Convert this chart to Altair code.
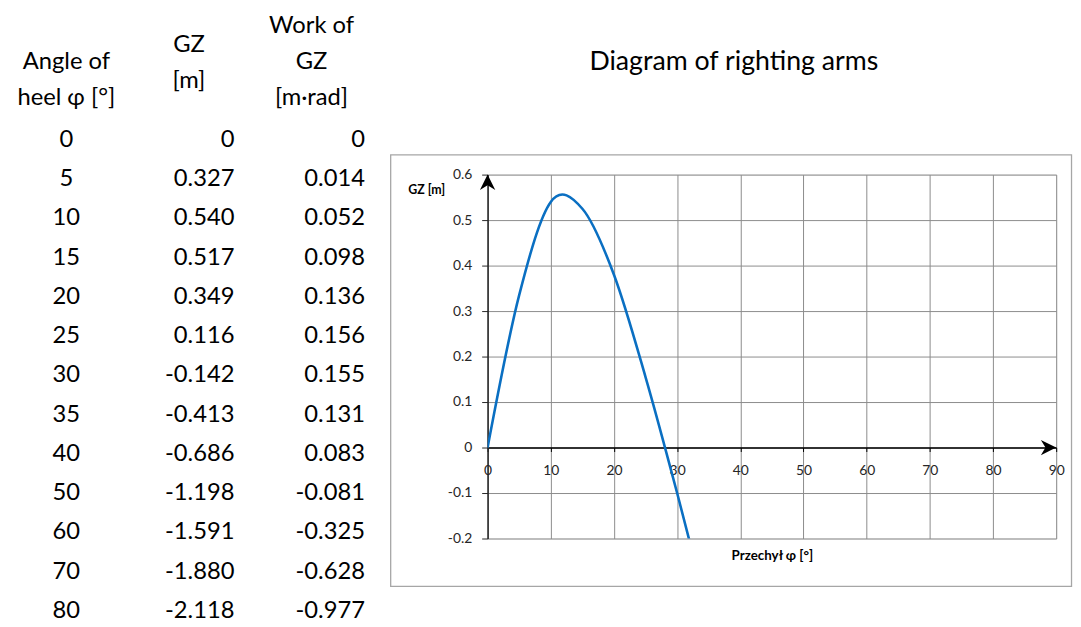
import altair as alt
import pandas as pd

# ---- table values ----
angles = [0, 5, 10, 15, 20, 25, 30, 35, 40, 50, 60, 70, 80]
gz = [0, 0.327, 0.540, 0.517, 0.349, 0.116, -0.142, -0.413, -0.686, -1.198, -1.591, -1.880, -2.118]
work = [0, 0.014, 0.052, 0.098, 0.136, 0.156, 0.155, 0.131, 0.083, -0.081, -0.325, -0.628, -0.977]

# ---- curve as drawn in the diagram ----
curve_angle = [0, 5, 10, 15, 20, 25, 30, 35, 40]
curve_gz = [0, 0.335, 0.54, 0.525, 0.38, 0.155, -0.10, -0.37, -0.64]

columns = ["angle", "gz", "work"]
headers = ["\nAngle of\nheel \u03c6 [\u00b0]", "GZ\n[m]", "Work of\nGZ\n[m\u00b7rad]"]

x_ticks = [0, 10, 20, 30, 40, 50, 60, 70, 80, 90]
y_ticks = [-0.2, -0.1, 0, 0.1, 0.2, 0.3, 0.4, 0.5, 0.6]

chart_title = "Diagram of righting arms"
x_title = "Przechy\u0142 \u03c6 [\u00b0]"
y_title = "GZ [m]"

FONT = "Lato"
W, H = 575, 368


def fmt(v):
    return "0" if v == 0 else f"{v:.3f}"


# ---- table (left) ----
rows = []
for c, h in zip(columns, headers):
    rows.append({"row": -3, "col": c, "text": h, "kind": "header"})
for i, (a, g, w) in enumerate(zip(angles, gz, work)):
    rows.append({"row": i, "col": "angle", "text": str(a), "kind": "value"})
    rows.append({"row": i, "col": "gz", "text": fmt(g), "kind": "value"})
    rows.append({"row": i, "col": "work", "text": fmt(w), "kind": "value"})
table = pd.DataFrame(rows)

tx = alt.X("col:N", scale=alt.Scale(type="point", domain=columns, range=[-426, -178], padding=0), axis=None)
ty = alt.Y("row:Q", scale=alt.Scale(domain=[0, 12], range=[-35, 441.4], nice=False, zero=False), axis=None)
tbase = alt.Chart(table).encode(x=tx, y=ty, text="text:N")
tstyle = dict(font=FONT, fontSize=24, color="black", baseline="middle")

t_head = tbase.transform_filter("datum.kind == 'header' && datum.col != 'gz'").mark_text(
    align="center", lineBreak="\n", lineHeight=36.5, dy=4, **tstyle)
t_head_gz = tbase.transform_filter("datum.kind == 'header' && datum.col == 'gz'").mark_text(
    align="center", lineBreak="\n", lineHeight=36.5, dy=23, **tstyle)
t_angle = tbase.transform_filter("datum.kind == 'value' && datum.col == 'angle'").mark_text(
    align="center", **tstyle)
t_gz = tbase.transform_filter("datum.kind == 'value' && datum.col == 'gz'").mark_text(
    align="right", dx=46, **tstyle)
t_work = tbase.transform_filter("datum.kind == 'value' && datum.col == 'work'").mark_text(
    align="right", dx=54, **tstyle)
table_layer = alt.layer(t_head, t_head_gz, t_angle, t_gz, t_work)

# ---- diagram (right) ----
curve = pd.DataFrame({"angle": curve_angle, "gz": curve_gz})
xs = alt.Scale(domain=[0, 90], nice=False, zero=False)
ys = alt.Scale(domain=[-0.2, 0.6], nice=False, zero=False)

x_axis = alt.Axis(
    values=x_ticks, format="d", grid=True, gridColor="#8c8c8c", gridWidth=1,
    domainColor="black", domainWidth=1.5, tickColor="black", tickSize=4, tickWidth=1,
    labelColor="#262626", labelFont=FONT, labelFontSize=14, labelBaseline="middle",
    labelPadding=19.5, labelFlush=False, labelOverlap=False, offset=-92,
    title=x_title, titleFont=FONT, titleFontSize=13.5, titleFontWeight="bold",
    titleColor="black", titleY=109, titleBaseline="middle")
y_axis = alt.Axis(
    values=y_ticks,
    labelExpr="datum.value < 0 ? '-' + format(-datum.value, '.1~f') : format(datum.value, '.1~f')",
    grid=True, gridColor="#8c8c8c", gridWidth=1,
    domainColor="#262626", domainWidth=1.5, tickColor="#262626", tickSize=6, tickWidth=1,
    labelColor="#262626", labelFont=FONT, labelFontSize=14, labelPadding=10,
    title=y_title, titleFont=FONT, titleFontSize=12.5, titleFontWeight="bold",
    titleColor="black", titleAngle=0, titleX=-62, titleY=15,
    titleAlign="center", titleBaseline="middle")

X = alt.X("angle:Q", scale=xs, axis=x_axis)
Y = alt.Y("gz:Q", scale=ys, axis=y_axis)

line = alt.Chart(curve).mark_line(
    interpolate="cardinal", color="#0a6fc2", strokeWidth=2.6, clip=True
).encode(x=X, y=Y)

arrow_up = "M0,0L1,2L0,1.4L-1,2Z"
arrow_right = "M0,0L-2,1L-1.4,0L-2,-1Z"
arrows = pd.DataFrame({"angle": [0, 90], "gz": [0.6, 0], "dir": ["up", "right"]})
arrow_pts = alt.Chart(arrows).mark_point(
    filled=True, color="black", opacity=1, size=240, strokeWidth=0
).encode(
    x=X, y=Y,
    shape=alt.Shape("dir:N", scale=alt.Scale(domain=["up", "right"], range=[arrow_up, arrow_right]), legend=None),
)

frame = alt.Chart(pd.DataFrame({"k": [0]})).mark_rect(
    fill="transparent", stroke="#a6a6a6", strokeWidth=1.3
).encode(x=alt.value(-98), x2=alt.value(590.5), y=alt.value(-20), y2=alt.value(416.5))

title_txt = alt.Chart(pd.DataFrame({"t": [chart_title]})).mark_text(
    font=FONT, fontSize=27, color="black", align="center", baseline="middle"
).encode(text="t:N", x=alt.value(249), y=alt.value(-114))

diagram = alt.layer(frame, title_txt, line, arrow_pts)

chart = alt.layer(diagram, table_layer).resolve_scale(
    x="independent", y="independent"
).properties(
    width=W, height=H, padding={"left": 9, "top": 2, "right": 0, "bottom": 0}
).configure_view(stroke="transparent").configure(font=FONT)

chart.save("out.html", embed_options={"renderer": "svg", "actions": False})
